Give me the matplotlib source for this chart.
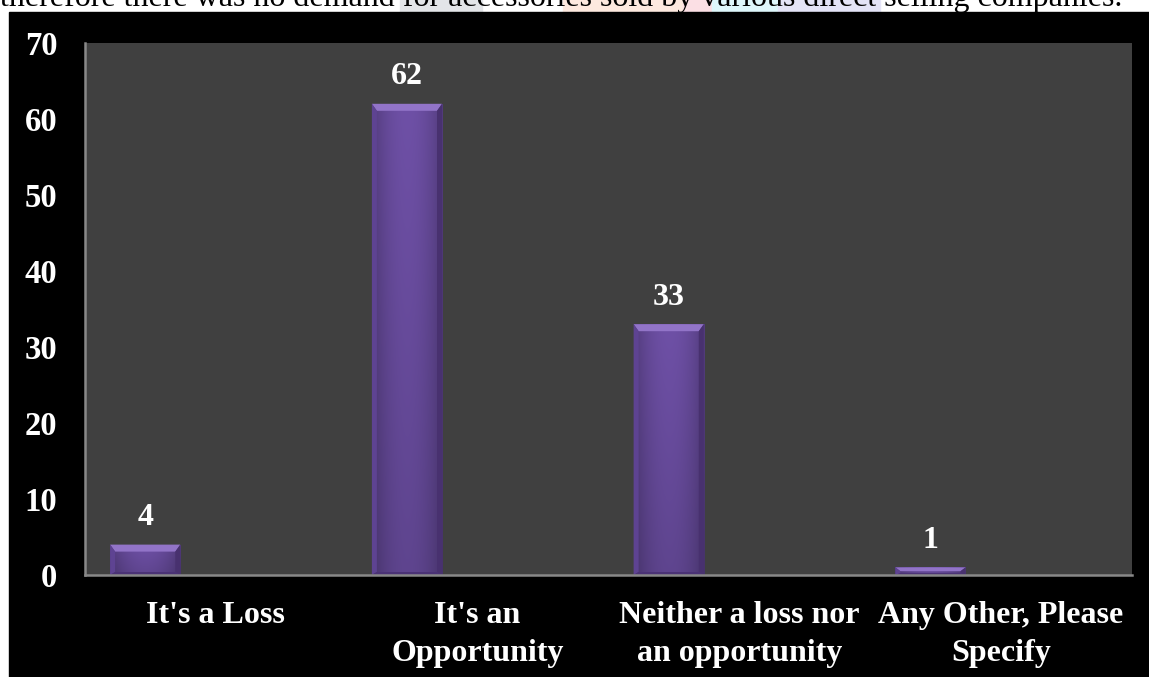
import numpy as np
import matplotlib
matplotlib.use("Agg")
from matplotlib import pyplot as plt
from matplotlib.patches import Rectangle, Polygon

categories = ["It's a Loss", "It's an\nOpportunity",
              "Neither a loss nor\nan opportunity", "Any Other, Please\nSpecify"]
responses = [4, 62, 33, 1]
yticks = [0, 10, 20, 30, 40, 50, 60, 70]

caption = "therefore there was no demand for accessories sold by various direct selling companies."

W, H, DPI = 1149, 677, 100
plt.rcParams['font.family'] = ['Liberation Serif', 'DejaVu Serif']

fig = plt.figure(figsize=(W / DPI, H / DPI), dpi=DPI, facecolor='white')

# faint coloured watermark bits behind the caption line
for x0, x1, c in [(400, 482, '#e3e5e8'), (563, 683, '#fde9df'), (683, 712, '#fbdfe4'),
                  (712, 778, '#def7fb'), (778, 880, '#e4e4f7')]:
    fig.patches.append(Rectangle((x0 / W, 1 - 12 / H), (x1 - x0) / W, 12 / H,
                                 transform=fig.transFigure, color=c, zorder=0))
fig.text(0.0, 1 - 6 / H, caption, fontsize=23, color='black', ha='left', va='baseline', zorder=2)

# black chart frame
fig.patches.append(Rectangle((9 / W, 0), 1 - 9 / W, 1 - 12 / H,
                             transform=fig.transFigure, color='black', zorder=1))

ax = fig.add_axes([85 / W, 1 - 575 / H, (1132 - 85) / W, (575 - 43) / H])
ax.set_facecolor('#404040')
ax.set_zorder(3)

x = np.arange(len(categories))
bar_x = x - 0.27
bar_w = 0.268

ax.set_xlim(-0.5, 3.5)
ax.set_ylim(0, 70)

bars = ax.bar(bar_x, responses, width=bar_w, color='#674b9e', linewidth=0, zorder=2)

# pixel sizes in data units for the bevel
px_x = 4.0 / ((1132 - 85))
px_y = 70.0 / (575 - 43)

grad = np.linspace(-1, 1, 64)
shade = 1 - 0.25 * np.abs(grad) ** 2
base = np.array([0x6e, 0x50, 0xa6]) / 255.0
for b, v in zip(bars, responses):
    x0 = b.get_x()
    w = b.get_width()
    vert = np.linspace(0.86, 1.0, 32)[:, None]
    img = base[None, None, :] * shade[None, :, None] * vert[:, :, None]
    im = ax.imshow(img, extent=(x0, x0 + w, 0, v), origin='lower', aspect='auto',
                   interpolation='bilinear', zorder=2.1)
    im.set_clip_path(b)

    bt = min(7 * px_y, v / 2)
    bs = 5 * px_x
    bb = min(3 * px_y, v / 4)
    top = Polygon([(x0, v), (x0 + w, v), (x0 + w - bs, v - bt), (x0 + bs, v - bt)],
                  closed=True, color='#9274c8', lw=0, zorder=2.2)
    left = Polygon([(x0, 0), (x0, v), (x0 + bs, v - bt), (x0 + bs, bb)],
                   closed=True, color='#5e4392', lw=0, zorder=2.2)
    right = Polygon([(x0 + w, 0), (x0 + w, v), (x0 + w - bs, v - bt), (x0 + w - bs, bb)],
                    closed=True, color='#48316f', lw=0, zorder=2.2)
    bottom = Polygon([(x0, 0), (x0 + w, 0), (x0 + w - bs, bb), (x0 + bs, bb)],
                     closed=True, color='#4a3275', lw=0, zorder=2.2)
    for p in (top, left, right, bottom):
        ax.add_patch(p)

    ax.annotate(str(v), (x0 + w / 2, v), xytext=(0, 14), textcoords='offset points',
                ha='center', va='baseline', color='white', fontsize=23, fontweight='bold',
                zorder=4)

ax.set_yticks(yticks)
ax.set_yticklabels([str(t) for t in yticks])
ax.set_xticks(x)
ax.set_xticklabels(categories, linespacing=1.38)
ax.tick_params(axis='y', length=0, pad=20, labelsize=23.5, labelcolor='white')
ax.tick_params(axis='x', length=0, pad=19, labelsize=23, labelcolor='white')
for lab in ax.get_xticklabels() + ax.get_yticklabels():
    lab.set_fontweight('bold')

for s in ['top', 'right']:
    ax.spines[s].set_visible(False)
for s in ['left', 'bottom']:
    ax.spines[s].set_color('#888888')
    ax.spines[s].set_linewidth(1.8)

fig.savefig('out.png', dpi=DPI, facecolor=fig.get_facecolor())
